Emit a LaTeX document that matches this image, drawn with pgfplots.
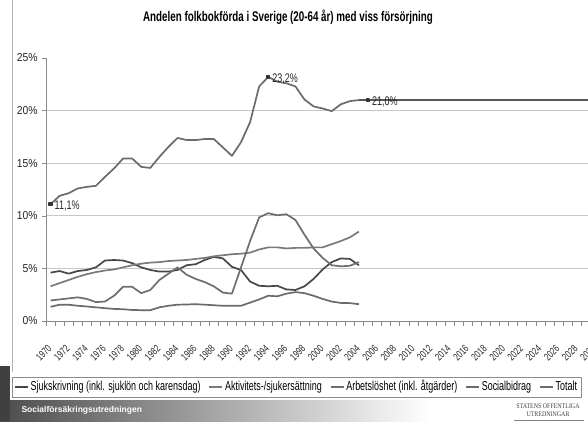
\documentclass[border=0pt]{standalone}
\usepackage{fontspec}
\setmainfont{Liberation Sans}
\newfontfamily\narrowfont[FakeStretch=0.72]{Liberation Sans}
\newfontfamily\titlefont[FakeStretch=0.7]{Liberation Sans}
\newfontfamily\legendfont[FakeStretch=0.69]{Liberation Sans}
\newfontfamily\tickfont[FakeStretch=0.9]{Liberation Sans}
\newfontfamily\soufont[FakeStretch=0.85]{Liberation Serif}
\usepackage{pgfplots}
\usepackage{pgfplotstable}
\pgfplotsset{compat=1.18}

% andel av befolkningen 20-64 ar, procent
\pgfplotstableread{
ar    sjuk  akt   arb    soc   tot
1970  4.60  3.30  1.95  1.35  11.10
1971  4.75  3.60  2.05  1.55  11.90
1972  4.50  3.90  2.15  1.55  12.15
1973  4.75  4.20  2.25  1.45  12.60
1974  4.85  4.45  2.10  1.38  12.75
1975  5.10  4.65  1.80  1.30  12.85
1976  5.75  4.80  1.85  1.22  13.70
1977  5.80  4.90  2.40  1.15  14.50
1978  5.75  5.10  3.25  1.12  15.45
1979  5.50  5.30  3.25  1.05  15.45
1980  5.10  5.45  2.65  1.03  14.65
1981  4.85  5.55  2.95  1.03  14.55
1982  4.70  5.60  3.90  1.30  15.60
1983  4.70  5.70  4.50  1.45  16.55
1984  4.85  5.75  5.10  1.55  17.40
1985  5.30  5.80  4.40  1.57  17.20
1986  5.40  5.90  4.00  1.60  17.20
1987  5.80  6.00  3.70  1.55  17.30
1988  6.10  6.15  3.30  1.50  17.30
1989  5.95  6.25  2.70  1.45  16.50
1990  5.15  6.35  2.60  1.45  15.70
1991  4.85  6.40  5.10  1.45  17.00
1992  3.75  6.50  7.60  1.75  18.90
1993  3.35  6.80  9.85  2.05  22.30
1994  3.30  7.00 10.25  2.40  23.20
1995  3.35  7.00 10.05  2.35  22.75
1996  3.00  6.90 10.15  2.60  22.60
1997  2.95  6.95  9.60  2.75  22.30
1998  3.30  6.95  8.20  2.65  21.05
1999  4.00  7.00  6.90  2.40  20.40
2000  4.90  7.00  6.00  2.10  20.20
2001  5.60  7.30  5.30  1.85  19.95
2002  5.95  7.60  5.20  1.72  20.60
2003  5.90  7.95  5.25  1.70  20.90
2004  5.30  8.50  5.60  1.60  21.00
}\data

% totalt, framskrivning
\pgfplotstableread{
ar    tot
2004  21.00
2005  21.00
2030  21.00
}\prognos

\begin{document}
\begin{tikzpicture}
\fill[white] (0pt,0pt) rectangle (588pt,-421pt);
\draw[black!30, line width=0.8pt] (12pt,0pt) -- (12pt,-372pt);
\shade[left color=black!70, right color=white] (0pt,-400pt) rectangle (430pt,-421pt);
\fill[black!75] (0pt,-366pt) rectangle (10pt,-421pt);
\node[anchor=west, text=white, font=\bfseries\fontsize{8.5}{9}\selectfont] at (18pt,-410pt) {Socialförsäkringsutredningen};
\node[align=center, text=black!75, inner sep=0pt, font=\soufont\fontsize{7}{7.5}\selectfont] at (548pt,-410pt) {STATENS OFFENTLIGA\\UTREDNINGAR};
\draw[black!50, line width=0.6pt] (514pt,-420pt) -- (584pt,-420pt);
\node[font=\titlefont\bfseries\fontsize{14}{16}\selectfont] at (288pt,-17pt)
  {Andelen folkbokförda i Sverige (20-64 år) med viss försörjning};

\begin{axis}[
  at={(46pt,-321pt)}, anchor=south west,
  scale only axis, width=553.3pt, height=263pt,
  xmin=1969.5, xmax=2030.5, ymin=0, ymax=25,
  axis lines*=left,
  axis line style={black!45, line width=0.8pt},
  /pgf/number format/assume math mode=true,
  /pgf/number format/1000 sep={},
  xtick={1970,1972,...,2030},
  minor xtick={1969.5,1970.5,...,2030.5},
  major x tick style={draw=none},
  minor x tick style={black!45, line width=0.6pt},
  minor tick length=5pt,
  ytick={0,5,...,20},
  ymajorgrids,
  major grid style={black!22, line width=0.8pt},
  extra y ticks={25},
  extra y tick labels={25\%},
  extra y tick style={grid=none},
  major y tick style={black!45, line width=0.6pt},
  major tick length=4pt,
  tick align=outside,
  yticklabel={\pgfmathprintnumber{\tick}\%},
  yticklabel style={font=\tickfont\fontsize{11.5}{12}\selectfont, text=black!85, xshift=-1pt},
  xticklabel style={font=\narrowfont\fontsize{10.5}{11}\selectfont, text=black!85,
    xshift=-3.5pt, yshift=-14pt, rotate=45, anchor=north east},
  legend style={at={(-0.0614,-0.213)}, anchor=north west, draw=black!45,
    fill=white, font=\legendfont\fontsize{13}{14}\selectfont,
    inner xsep=2pt, inner ysep=1.5pt,
    nodes={text height=9.5pt, text depth=3pt},
    /tikz/every even column/.append style={column sep=6pt}},
  legend columns=5,
  legend image code/.code={\draw[#1, line width=1.5pt] (0pt,0pt) -- (13pt,0pt);},
  every axis plot/.append style={line width=1.7pt, line join=round},
]
\addplot[black!72] table[x=ar, y=sjuk] {\data};
\addlegendentry{Sjukskrivning (inkl. sjuklön och karensdag)}
\addplot[black!52] table[x=ar, y=akt] {\data};
\addlegendentry{Aktivitets-/sjukersättning}
\addplot[black!57] table[x=ar, y=arb] {\data};
\addlegendentry{Arbetslöshet (inkl. åtgärder)}
\addplot[black!58] table[x=ar, y=soc] {\data};
\addlegendentry{Socialbidrag}
\addplot[black!58] table[x=ar, y=tot] {\data};
\addlegendentry{Totalt}
\addplot[black!66, line width=1.9pt, forget plot] table[x=ar, y=tot] {\prognos};
\addplot[only marks, mark=square*, mark size=1.3pt, black!80, forget plot,
  point meta=explicit symbolic, nodes near coords,
  nodes near coords style={anchor=west, xshift=0pt, yshift=-1.5pt, text=black!85,
    font=\narrowfont\fontsize{12.5}{13}\selectfont}]
  coordinates {(1970,11.1) [{11,1\%}] (1994,23.2) [{23,2\%}] (2005,21.0) [{21,0\%}]};
\end{axis}
\pgfresetboundingbox
\path (0pt,0pt) rectangle (588pt,-421pt);
\end{tikzpicture}
\end{document}
